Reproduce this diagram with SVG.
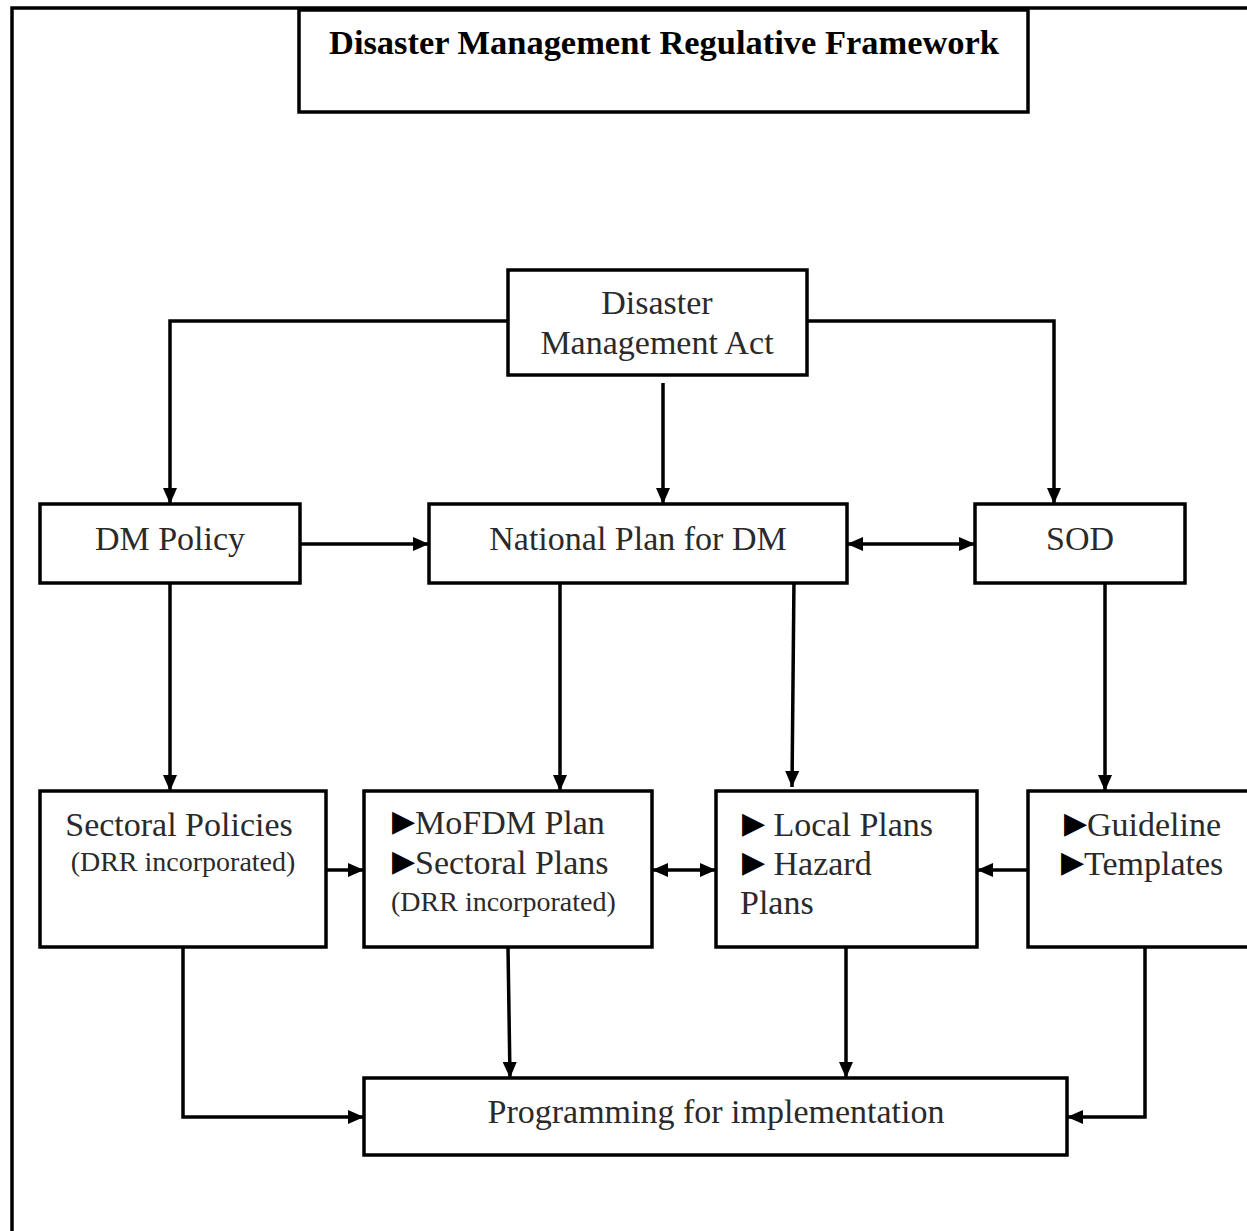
<svg xmlns="http://www.w3.org/2000/svg" width="1247" height="1231" viewBox="0 0 1247 1231">
<style>
.box{fill:#fff;stroke:#000;stroke-width:3.5}
.t{font-family:"Liberation Serif","Times New Roman",serif;font-size:34px;fill:#2a2a2a}
.s{font-size:28px}
.b{font-size:30px;fill:#000;baseline-shift:3px}
.c{fill:none;stroke:#000;stroke-width:3.5}
</style>
<defs>
<marker id="ah" markerUnits="userSpaceOnUse" markerWidth="16" markerHeight="14" refX="16" refY="7" orient="auto-start-reverse">
<path d="M0,0 L16,7 L0,14 z" fill="#000"/>
</marker>
</defs>
<rect width="1247" height="1231" fill="#fff"/>
<g id="frame">
<path d="M12,1231 V8 H1247" fill="none" stroke="#000" stroke-width="3.5"/>
</g>
<g id="title">
<rect class="box" x="299" y="10" width="729" height="102"/>
<text x="664" y="54" text-anchor="middle" font-family="Liberation Serif, serif" font-weight="bold" font-size="33" textLength="670" lengthAdjust="spacingAndGlyphs">Disaster Management Regulative Framework</text>
</g>
<g id="connectors">
<path class="c" d="M508,321 H170 V504" marker-end="url(#ah)"/>
<path class="c" d="M807,321 H1054 V504" marker-end="url(#ah)"/>
<path class="c" d="M663,383 V504" marker-end="url(#ah)"/>
<path class="c" d="M300,544 H429" marker-end="url(#ah)"/>
<path class="c" d="M847,544 H975" marker-start="url(#ah)" marker-end="url(#ah)"/>
<path class="c" d="M170,583 V791" marker-end="url(#ah)"/>
<path class="c" d="M560,583 V791" stroke-width="4.5" marker-end="url(#ah)"/>
<path class="c" d="M794,578 L792,787" marker-end="url(#ah)"/>
<path class="c" d="M1105,583 V791" marker-end="url(#ah)"/>
<path class="c" d="M326,870 H364" marker-end="url(#ah)"/>
<path class="c" d="M652,870 H716" marker-start="url(#ah)" marker-end="url(#ah)"/>
<path class="c" d="M1030,870 H977" marker-end="url(#ah)"/>
<path class="c" d="M183,947 V1117 H364" stroke-width="4.5" marker-end="url(#ah)"/>
<path class="c" d="M508,947 L510,1078" marker-end="url(#ah)"/>
<path class="c" d="M846,947 V1078" marker-end="url(#ah)"/>
<path class="c" d="M1145,947 V1117 H1067" stroke-width="4.5" marker-end="url(#ah)"/>
</g>
<g id="dm-act">
<rect class="box" x="508" y="270" width="299" height="105"/>
<text class="t" x="657" y="314" text-anchor="middle">Disaster</text>
<text class="t" x="657" y="354" text-anchor="middle">Management Act</text>
</g>
<g id="dm-policy">
<rect class="box" x="40" y="504" width="260" height="79"/>
<text class="t" x="170" y="550" text-anchor="middle">DM Policy</text>
</g>
<g id="national-plan">
<rect class="box" x="429" y="504" width="418" height="79"/>
<text class="t" x="638" y="550" text-anchor="middle">National Plan for DM</text>
</g>
<g id="sod">
<rect class="box" x="975" y="504" width="210" height="79"/>
<text class="t" x="1080" y="550" text-anchor="middle">SOD</text>
</g>
<g id="sectoral-policies">
<rect class="box" x="40" y="791" width="286" height="156"/>
<text class="t" x="179" y="836" text-anchor="middle">Sectoral Policies</text>
<text class="t s" x="183" y="871" text-anchor="middle">(DRR incorporated)</text>
</g>
<g id="mofdm-plan">
<rect class="box" x="364" y="791" width="288" height="156"/>
<text class="t" x="392" y="834"><tspan class="b">▶</tspan>MoFDM Plan</text>
<text class="t" x="392" y="874"><tspan class="b">▶</tspan>Sectoral Plans</text>
<text class="t s" x="391" y="911">(DRR incorporated)</text>
</g>
<g id="local-plans">
<rect class="box" x="716" y="791" width="261" height="156"/>
<text class="t" x="742" y="836"><tspan class="b">▶</tspan> Local Plans</text>
<text class="t" x="742" y="875"><tspan class="b">▶</tspan> Hazard</text>
<text class="t" x="740" y="914">Plans</text>
</g>
<g id="guideline">
<rect class="box" x="1028" y="791" width="230" height="156"/>
<text class="t" x="1064" y="836"><tspan class="b">▶</tspan>Guideline</text>
<text class="t" x="1061" y="875"><tspan class="b">▶</tspan>Templates</text>
</g>
<g id="programming">
<rect class="box" x="364" y="1078" width="703" height="77"/>
<text class="t" x="716" y="1123" text-anchor="middle">Programming for implementation</text>
</g>
</svg>
